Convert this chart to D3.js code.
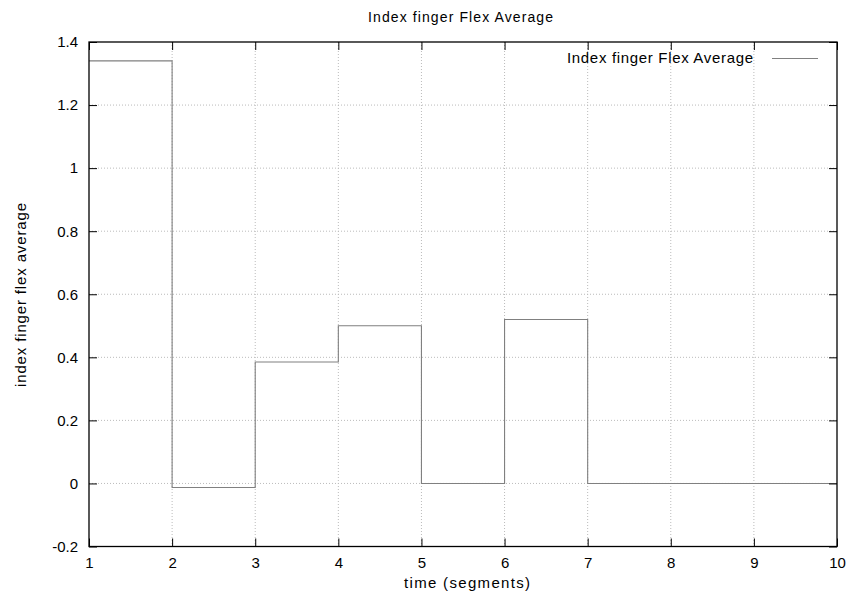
<!DOCTYPE html>
<html><head><meta charset="utf-8">
<script src="https://cdn.jsdelivr.net/npm/d3@7"></script>
<style>body{margin:0;background:#fff}svg{display:block}text{font-family:"Liberation Sans",Arial,sans-serif;fill:#000}</style>
</head><body>
<svg id="c" width="853" height="601"></svg>
<script>
const segStarts = [1,2,3,4,5,6,7];
const segEnds   = [2,3,4,5,6,7,10];
const segValues = [1.34,-0.013,0.385,0.5,0,0.52,0];
const xTicks = [1,2,3,4,5,6,7,8,9,10];
const yTicks = [-0.2,0,0.2,0.4,0.6,0.8,1,1.2,1.4];
const titleText = "Index finger Flex Average";
const seriesName = "Index finger Flex Average";
const xLabel = "time (segments)";
const yLabel = "index finger flex average";

const svg = d3.select("#c");
const L=89, R=837, T=42, B=546.5;
const x = d3.scaleLinear().domain([1,10]).range([L,R]);
const y = d3.scaleLinear().domain([-0.2,1.4]).range([B,T]);
const FS = "15px";

// grid
const g = svg.append("g");
g.selectAll(".gx").data(xTicks.slice(1,-1)).enter().append("line")
  .attr("x1",d=>x(d)).attr("x2",d=>x(d)).attr("y1",T).attr("y2",B)
  .attr("stroke","#bbb").attr("stroke-width",1).attr("stroke-dasharray","1,2");
g.selectAll(".gy").data(yTicks.slice(1,-1)).enter().append("line")
  .attr("y1",d=>y(d)).attr("y2",d=>y(d)).attr("x1",L).attr("x2",R)
  .attr("stroke","#bbb").attr("stroke-width",1).attr("stroke-dasharray","1,2");

// step line
const pts = [];
segValues.forEach((v,i)=>{pts.push([segStarts[i],v]);pts.push([segEnds[i],v]);});
svg.append("path").datum(pts)
  .attr("d", d3.line().x(d=>x(d[0])).y(d=>y(d[1])))
  .attr("fill","none").attr("stroke","#808080").attr("stroke-width",1.1);

// axes with inward ticks both sides
const ax = svg.append("g");
ax.append("g").attr("transform",`translate(0,${B})`)
  .call(d3.axisBottom(x).tickValues(xTicks).tickSize(-8).tickPadding(11).tickFormat(d=>String(d)));
ax.append("g").attr("transform",`translate(0,${T})`)
  .call(d3.axisTop(x).tickValues(xTicks).tickSize(-8).tickFormat(""));
ax.append("g").attr("transform",`translate(${L},0)`)
  .call(d3.axisLeft(y).tickValues(yTicks).tickSize(-8).tickPadding(11).tickFormat(d=>String(+d.toFixed(1))));
ax.append("g").attr("transform",`translate(${R},0)`)
  .call(d3.axisRight(y).tickValues(yTicks).tickSize(-8).tickFormat(""));
ax.selectAll(".domain").remove();
ax.selectAll("line").attr("stroke","#000");
ax.selectAll("text").style("font-size",FS).style("font-family","Liberation Sans, Arial, sans-serif").attr("fill","#000");
svg.append("rect").attr("x",L).attr("y",T).attr("width",R-L).attr("height",B-T)
  .attr("fill","none").attr("stroke","#000").attr("stroke-width",1.3);

// title & labels
svg.append("text").attr("x",368).attr("y",22).style("font-size","14px")
  .attr("textLength",185).attr("lengthAdjust","spacing").text(titleText);
svg.append("text").attr("x",404).attr("y",588).style("font-size",FS)
  .attr("textLength",126).attr("lengthAdjust","spacing").text(xLabel);
svg.append("text").attr("transform","translate(26,387) rotate(-90)").style("font-size",FS)
  .attr("textLength",184).attr("lengthAdjust","spacing").text(yLabel);

// legend
svg.append("text").attr("x",567).attr("y",63).style("font-size",FS)
  .attr("textLength",186).attr("lengthAdjust","spacing").text(seriesName);
svg.append("line").attr("x1",772).attr("x2",818).attr("y1",58.5).attr("y2",58.5).attr("stroke","#808080").attr("stroke-width",1.1);
</script>
</body></html>
